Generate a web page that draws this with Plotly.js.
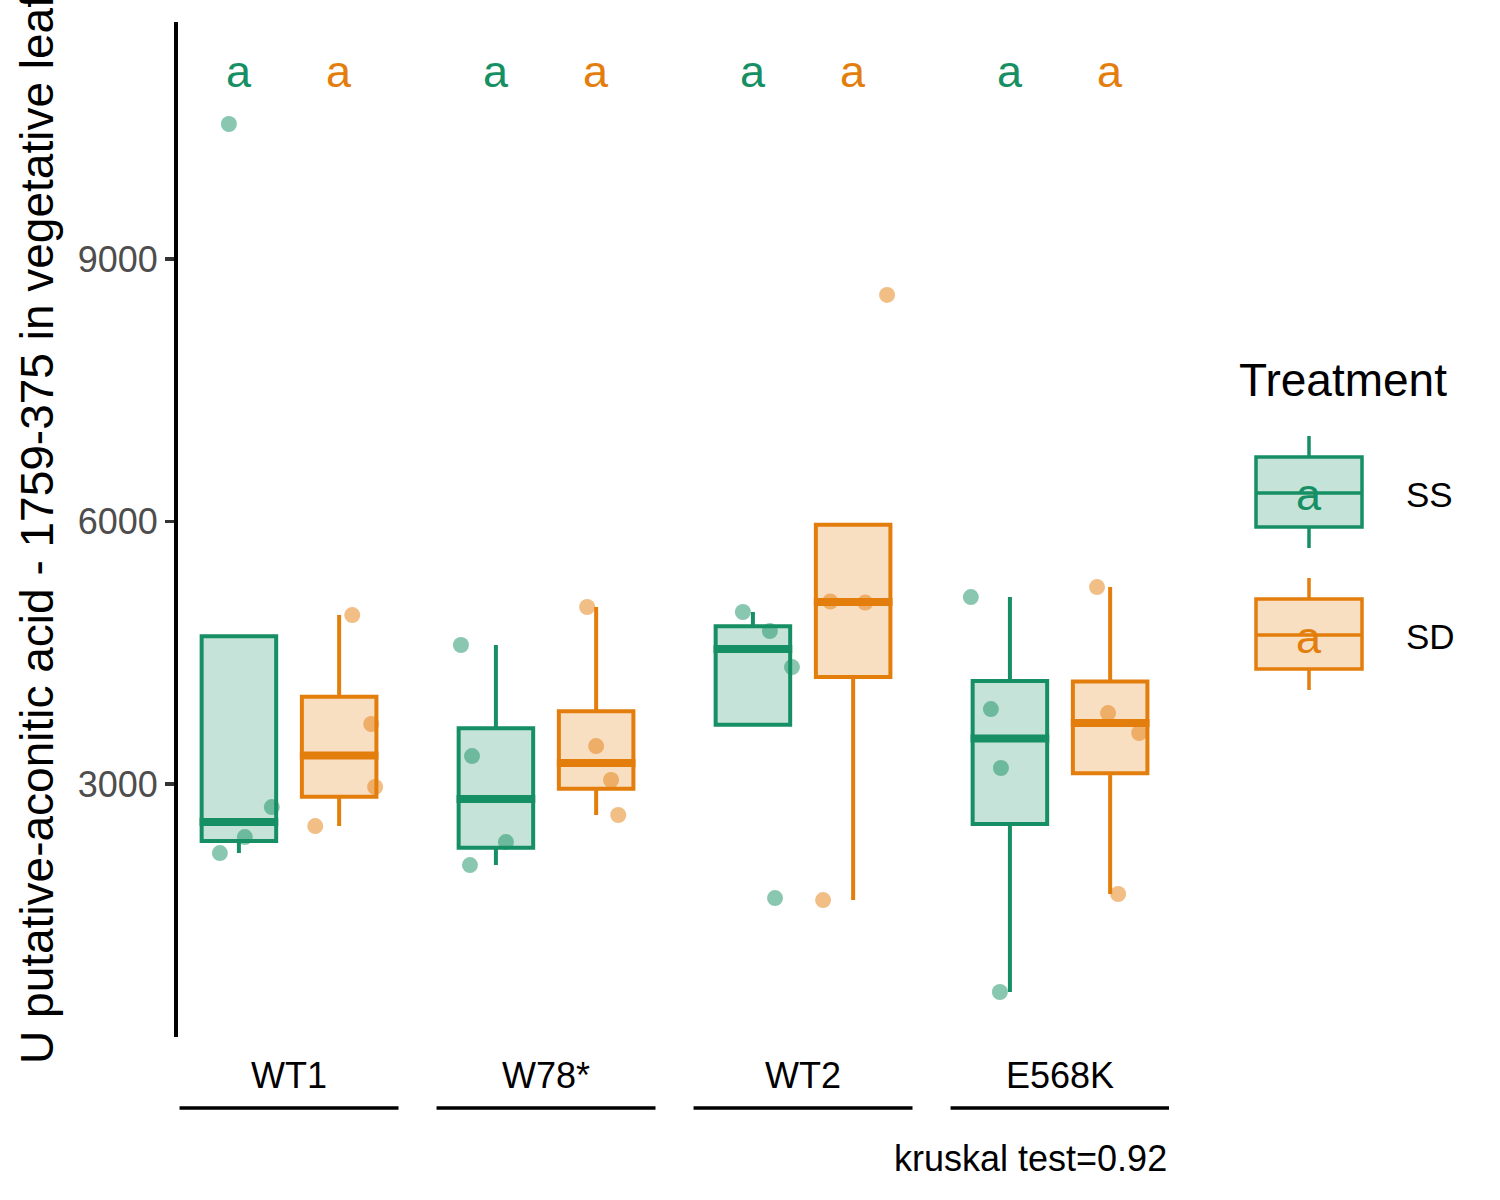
<!DOCTYPE html>
<html>
<head>
<meta charset="utf-8">
<script src="https://cdn.plot.ly/plotly-3.0.1.min.js"></script>
<style>
  html, body { margin: 0; padding: 0; background: #fff; }
  #chart { width: 1500px; height: 1200px; }
</style>
</head>
<body>
<div id="chart"></div>
<script>
// data
const groups = ['WT1', 'W78*', 'WT2', 'E568K'];
const treatments = ['SS', 'SD'];

// 4 samples per genotype and treatment
const ssValues = [
  [10543, 2211, 2394, 2737],
  [4589, 3320, 2337, 2074],
  [4966, 4749, 4337, 1697],
  [5137, 3857, 3183, 623]
];
const sdValues = [
  [4931, 3686, 2966, 2520],
  [5023, 3434, 3046, 2646],
  [5086, 5074, 1674, 8590],
  [5251, 3811, 3583, 1743]
];

// horizontal jitter of each point (fraction of a genotype slot)
const ssJitter = [
  [-0.039, -0.074, 0.023, 0.128],
  [-0.136, -0.093, 0.039, -0.101],
  [-0.039, 0.066, 0.152, 0.086],
  [-0.152, -0.074, -0.035, -0.039]
];
const sdJitter = [
  [0.051, 0.125, 0.140, -0.093],
  [-0.035, 0.000, 0.058, 0.086],
  [-0.089, 0.047, -0.117, 0.132],
  [-0.051, -0.008, 0.113, 0.031]
];

const ssLetters = ['a', 'a', 'a', 'a'];
const sdLetters = ['a', 'a', 'a', 'a'];
const kruskalP = 0.92;

const yTicks = [3000, 6000, 9000];
const yTitle = 'U putative-aconitic acid - 1759-375 in vegetative leaf';

// styling
const FONT = 'Liberation Sans, Arial, Helvetica, sans-serif';
const colors = { SS: '#168F64', SD: '#E37E0D' };
const fills = { SS: 'rgba(22,143,100,0.25)', SD: 'rgba(227,126,13,0.25)' };
const dots = { SS: 'rgba(22,143,100,0.5)', SD: 'rgba(227,126,13,0.5)' };
const dodge = { SS: -0.195, SD: 0.195 };
const boxWidth = 0.29;

// ggplot style (type 7) quantiles
function quantile(sorted, p) {
  const h = (sorted.length - 1) * p;
  const lo = Math.floor(h);
  if (lo + 1 >= sorted.length) return sorted[lo];
  return sorted[lo] + (h - lo) * (sorted[lo + 1] - sorted[lo]);
}

function boxStats(vals) {
  const s = vals.slice().sort((a, b) => a - b);
  const q1 = quantile(s, 0.25), med = quantile(s, 0.5), q3 = quantile(s, 0.75);
  const iqr = q3 - q1;
  const inside = s.filter(v => v >= q1 - 1.5 * iqr && v <= q3 + 1.5 * iqr);
  return {
    q1: q1, median: med, q3: q3,
    lo: Math.min(inside[0], q1),
    hi: Math.max(inside[inside.length - 1], q3)
  };
}

const valuesBy = { SS: ssValues, SD: sdValues };
const jitterBy = { SS: ssJitter, SD: sdJitter };
const lettersBy = { SS: ssLetters, SD: sdLetters };

const traces = [];
const medianTraces = [];
const pointTraces = [];
const annotations = [];

treatments.forEach(t => {
  const stats = valuesBy[t].map(boxStats);
  const xs = groups.map((g, i) => i + 1 + dodge[t]);

  traces.push({
    type: 'box',
    name: t,
    x: xs,
    q1: stats.map(s => s.q1),
    median: stats.map(s => s.median),
    q3: stats.map(s => s.q3),
    lowerfence: stats.map(s => s.lo),
    upperfence: stats.map(s => s.hi),
    width: boxWidth,
    whiskerwidth: 0,
    boxpoints: false,
    fillcolor: fills[t],
    line: { color: colors[t], width: 4 },
    hoverinfo: 'skip'
  });

  // thicker median bar like ggplot
  const mx = [], my = [];
  stats.forEach((s, i) => {
    const half = boxWidth / 2 + 0.008;
    mx.push(xs[i] - half, xs[i] + half, null);
    my.push(s.median, s.median, null);
  });
  medianTraces.push({
    type: 'scatter', mode: 'lines', x: mx, y: my,
    line: { color: colors[t], width: 8 }, hoverinfo: 'skip'
  });

  const px = [], py = [];
  valuesBy[t].forEach((vals, i) => {
    vals.forEach((v, j) => {
      px.push(xs[i] + jitterBy[t][i][j]);
      py.push(v);
    });
  });
  pointTraces.push({
    type: 'scatter', mode: 'markers', x: px, y: py,
    marker: { color: dots[t], size: 16, line: { width: 0 } },
    hoverinfo: 'skip'
  });

  lettersBy[t].forEach((l, i) => {
    annotations.push({
      x: xs[i], y: 11140, xref: 'x', yref: 'y', text: l, showarrow: false,
      font: { family: FONT, size: 45, color: colors[t] }, yanchor: 'middle'
    });
  });
});

// pixel -> paper helpers for the hand drawn legend and underlines
const L = 178, R = 1169, T = 22, B = 1037;
const pxX = v => (v - L) / (R - L);
const pxY = v => (B - v) / (B - T);

const shapes = [];
groups.forEach((g, i) => {
  shapes.push({
    type: 'line', xref: 'x', yref: 'paper',
    x0: i + 1 - 0.426, x1: i + 1 + 0.426, y0: pxY(1108), y1: pxY(1108),
    line: { color: '#000', width: 3.5 }
  });
});

annotations.push({
  xref: 'paper', yref: 'paper', x: 1, y: pxY(1158), xanchor: 'right', yanchor: 'middle',
  text: 'kruskal test=' + kruskalP, showarrow: false,
  font: { family: FONT, size: 36, color: '#000' }
});

// legend
annotations.push({
  xref: 'paper', yref: 'paper', x: pxX(1237), y: pxY(380), xanchor: 'left', yanchor: 'middle',
  text: 'Treatment', showarrow: false, font: { family: FONT, size: 46, color: '#000' }
});
const keyTop = { SS: 457, SD: 599 };
treatments.forEach(t => {
  const top = keyTop[t], bot = top + 70, mid = top + 36, cx = 1309;
  shapes.push({
    type: 'line', xref: 'paper', yref: 'paper', x0: pxX(cx), x1: pxX(cx),
    y0: pxY(top - 21), y1: pxY(top), line: { color: colors[t], width: 3.5 }
  });
  shapes.push({
    type: 'line', xref: 'paper', yref: 'paper', x0: pxX(cx), x1: pxX(cx),
    y0: pxY(bot), y1: pxY(bot + 21), line: { color: colors[t], width: 3.5 }
  });
  shapes.push({
    type: 'rect', xref: 'paper', yref: 'paper', x0: pxX(1256), x1: pxX(1362),
    y0: pxY(bot), y1: pxY(top), fillcolor: fills[t], line: { color: colors[t], width: 3.5 }
  });
  shapes.push({
    type: 'line', xref: 'paper', yref: 'paper', x0: pxX(1256), x1: pxX(1362),
    y0: pxY(mid), y1: pxY(mid), line: { color: colors[t], width: 3.5 }
  });
  annotations.push({
    xref: 'paper', yref: 'paper', x: pxX(cx), y: pxY(mid + 2), xanchor: 'center', yanchor: 'middle',
    text: lettersBy[t][0], showarrow: false, font: { family: FONT, size: 45, color: colors[t] }
  });
  annotations.push({
    xref: 'paper', yref: 'paper', x: pxX(1404), y: pxY(mid + 1), xanchor: 'left', yanchor: 'middle',
    text: t, showarrow: false, font: { family: FONT, size: 35, color: '#000' }
  });
});

const layout = {
  width: 1500, height: 1200,
  margin: { l: L, r: 1500 - R, t: T, b: 1200 - B },
  paper_bgcolor: '#fff', plot_bgcolor: '#fff',
  showlegend: false,
  boxmode: 'overlay',
  font: { family: FONT },
  xaxis: {
    range: [0.568, 4.424],
    tickvals: groups.map((g, i) => i + 1),
    ticktext: groups,
    ticks: 'outside', ticklen: 7, tickcolor: 'rgba(0,0,0,0)',
    showline: false, showgrid: false, zeroline: false,
    tickfont: { family: FONT, size: 36, color: '#000' }
  },
  yaxis: {
    range: [109, 11709],
    tickvals: yTicks,
    ticks: 'outside', ticklen: 9, tickwidth: 3.5, tickcolor: '#333',
    showline: true, linecolor: '#000', linewidth: 4,
    showgrid: false, zeroline: false,
    tickfont: { family: FONT, size: 36, color: '#4D4D4D' },
    title: { text: yTitle, font: { family: FONT, size: 46, color: '#000' }, standoff: 11 }
  },
  shapes: shapes,
  annotations: annotations
};

Plotly.newPlot('chart', traces.concat(medianTraces, pointTraces), layout, { staticPlot: true });
</script>
</body>
</html>
